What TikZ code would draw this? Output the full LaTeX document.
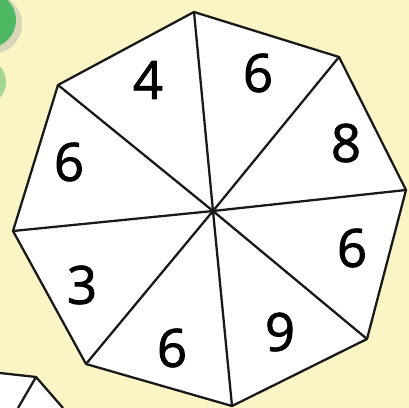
\documentclass[tikz,border=0pt]{standalone}
\usepackage{fontspec}
\setmainfont{Open Sans}
\newfontface\numfont{Open Sans}[FakeBold=1.6]
\usepackage{tikz}
\definecolor{pbg}{HTML}{FBF5C6}
\definecolor{pgreen}{HTML}{4DB862}
\tikzset{
  edgeline/.style={black!90, line width=1.3pt, line join=round},
  sectnum/.style={font=\numfont\fontsize{30}{30}\selectfont, text=black}
}
\begin{document}
\begin{tikzpicture}[x=0.02cm, y=-0.02cm]
\useasboundingbox (0,0) rectangle (409,408);
\fill[pbg] (0,0) rectangle (409,408);
\begin{scope}
\clip (0,0) rectangle (409,408);
% green counters at the left edge
\fill[black!35, opacity=0.4] (-8,24) circle (30);
\fill[pgreen] (-12,20) circle (28);
\fill[pgreen!50!pbg] (-18,82) circle (24);
% piece of the next spinner
\fill[white] (0,373) -- (36,377) -- (63,408) -- (0,408) -- cycle;
\draw[edgeline] (0,373) -- (36,377) -- (63,408);
\draw[edgeline] (36,377) -- (18,408);
\end{scope}
% spinner
\coordinate (c) at (213,211);
\coordinate (v1) at (194,12);
\coordinate (v2) at (339,57);
\coordinate (v3) at (406,190);
\coordinate (v4) at (367,339);
\coordinate (v5) at (232,406);
\coordinate (v6) at (86,364);
\coordinate (v7) at (13,231);
\coordinate (v8) at (58,85);
\fill[white, draw=black!90, line width=1.3pt, line join=round]
  (v1) -- (v2) -- (v3) -- (v4) -- (v5) -- (v6) -- (v7) -- (v8) -- cycle;
\foreach \v in {v1,v2,v3,v4,v5,v6,v7,v8}
  \draw[edgeline] (c) -- (\v);
% numbers
\node[sectnum] (n1) at (148,80) {4};
\node[sectnum] (n2) at (258,73) {6};
\node[sectnum] (n3) at (346,143) {8};
\node[sectnum] (n4) at (352,248) {6};
\node[sectnum] (n5) at (280,332) {9};
\node[sectnum] (n6) at (172,348) {6};
\node[sectnum] (n7) at (82,285) {3};
\node[sectnum] (n8) at (69,162) {6};
\end{tikzpicture}
\end{document}
